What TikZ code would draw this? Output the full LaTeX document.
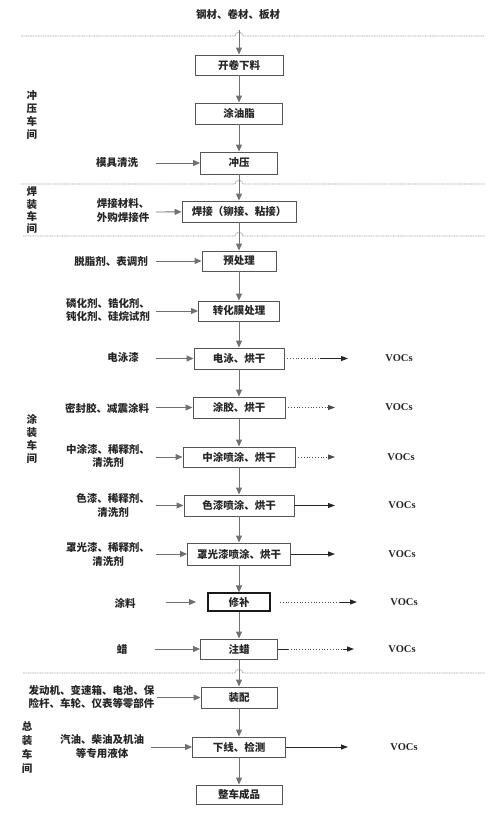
\documentclass[tikz,border=0pt]{standalone}
\usepackage{fontspec}
\setmainfont{Noto Sans CJK SC}
\newfontfamily\vocfont{Liberation Serif}
\usetikzlibrary{arrows.meta}
\definecolor{boxc}{HTML}{555555}
\definecolor{arrc}{HTML}{707070}
\definecolor{txtc}{HTML}{262626}
\tikzset{
 proc/.style={draw=boxc, line width=0.9pt, fill=white, minimum height=21pt, inner sep=0pt, font=\fontsize{10.5}{12}\selectfont\bfseries, text=txtc},
 lbl/.style={font=\fontsize{10.5}{14}\selectfont\bfseries, text=txtc, inner sep=0pt},
 vlbl/.style={align=center, inner sep=0pt, text=txtc, font=\fontsize{10.5}{13}\selectfont\bfseries},
 flow/.style={draw=arrc, line width=0.9pt, -{Triangle[length=7pt,width=6pt]}},
 sep/.style={draw=gray!75, line width=0.8pt, dash pattern=on 1pt off 0.7pt},
 voc/.style={font=\vocfont\fontsize{10.5}{12}\selectfont\bfseries, text=txtc, inner sep=0pt},
 emis/.style={draw=black!85, line width=0.9pt, -{Triangle[length=7pt,width=5pt]}},
 emisdot/.style={draw=black!70, line width=0.8pt, dotted},
 emisdotarr/.style={draw=black!70, line width=0.8pt, dotted, -{Triangle[length=7pt,width=5pt]}}
}
\begin{document}
\begin{tikzpicture}[x=1pt,y=-1pt]
\useasboundingbox (0,0) rectangle (500,815);

% separators with hops
\draw[sep] (21,36) -- (235,36) .. controls (235,31) and (243,31) .. (243,36) -- (485,36);
\draw[sep] (21,184) -- (235,184) .. controls (235,179) and (243,179) .. (243,184) -- (485,184);
\draw[sep] (23,236) -- (235,236) .. controls (235,231) and (243,231) .. (243,236) -- (485,236);
\draw[sep] (23,673) -- (235,673) .. controls (235,668) and (243,668) .. (243,673) -- (485,673);

% workshop labels
\node[vlbl] (w1) at (32,114.5) {冲\\压\\车\\间};
\node[vlbl, font=\fontsize{10.5}{12.3}\selectfont\bfseries] (w2) at (32,210.5) {焊\\装\\车\\间};
\node[vlbl] (w3) at (32,439) {涂\\装\\车\\间};
\node[vlbl, font=\fontsize{10.5}{13.7}\selectfont\bfseries] (w4) at (27,747.5) {总\\装\\车\\间};

% main process
\node[lbl] (top) at (238,15) {钢材、卷材、板材};
\coordinate (topin) at (239,30);
\node[proc, minimum width=88pt, minimum height=20pt] (b1) at (239,65) {开卷下料};
\node[proc, minimum width=87pt] (b2) at (239,113.5) {涂油脂};
\node[proc, minimum width=77pt, minimum height=22pt] (b3) at (239,163) {冲压};
\node[proc, minimum width=114pt] (b4) at (239,211.5) {焊接（铆接、粘接）};
\node[proc, minimum width=74pt, minimum height=20pt] (b5) at (239,261) {预处理};
\node[proc, minimum width=81pt, minimum height=20pt] (b6) at (239,311) {转化膜处理};
\node[proc, minimum width=90pt] (b7) at (239,358.5) {电泳、烘干};
\node[proc, minimum width=92pt] (b8) at (239,407.5) {涂胶、烘干};
\node[proc, minimum width=112pt, minimum height=20pt] (b9) at (239,457) {中涂喷涂、烘干};
\node[proc, minimum width=110pt] (b10) at (239,505.5) {色漆喷涂、烘干};
\node[proc, minimum width=103pt, minimum height=22pt] (b11) at (239,554) {罩光漆喷涂、烘干};
\node[proc, draw=black!90, line width=1.1pt, minimum width=62pt, minimum height=18pt] (b12) at (239,602) {修补};
\node[proc, minimum width=77pt, minimum height=20pt] (b13) at (239,649) {注蜡};
\node[proc, minimum width=76pt] (b14) at (239,697.5) {装配};
\node[proc, minimum width=93pt, minimum height=20pt] (b15) at (239,747) {下线、检测};
\node[proc, minimum width=86pt, minimum height=19pt] (b16) at (239,794.5) {整车成品};

\draw[flow] (topin) -- (b1);
\foreach \a/\b in {b1/b2,b2/b3,b3/b4,b4/b5,b5/b6,b6/b7,b7/b8,b8/b9,b9/b10,b10/b11,b11/b12,b12/b13,b13/b14,b14/b15,b15/b16}
  \draw[flow] (\a) -- (\b);

% inputs
\node[lbl] (i3) at (117,163) {模具清洗};
\node[lbl, align=left] (i4) at (123,211) {焊接材料、\\外购焊接件};
\node[lbl] (i5) at (111,261) {脱脂剂、表调剂};
\node[lbl, align=left, font=\fontsize{10.5}{13}\selectfont\bfseries] (i6) at (108,310) {磷化剂、锆化剂、\\钝化剂、硅烷试剂};
\node[lbl] (i7) at (123,358) {电泳漆};
\node[lbl] (i8) at (107,408) {密封胶、减震涂料};
\node[lbl, align=center, font=\fontsize{10.5}{13}\selectfont\bfseries] (i9) at (108,455.5) {中涂漆、稀释剂、\\清洗剂};
\node[lbl, align=center] (i10) at (113,505.5) {色漆、稀释剂、\\清洗剂};
\node[lbl, align=center] (i11) at (108,554) {罩光漆、稀释剂、\\清洗剂};
\node[lbl] (i12) at (125,603) {涂料};
\node[lbl] (i13) at (122,649) {蜡};
\node[lbl, align=left, font=\fontsize{10.5}{13}\selectfont\bfseries] (i14) at (91.5,697.5) {发动机、变速箱、电池、保\\险杆、车轮、仪表等零部件};
\node[lbl, align=center] (i15) at (102,747) {汽油、柴油及机油\\等专用液体};

\coordinate (s3) at (156,163);
\coordinate (s4) at (156,212);
\coordinate (s5) at (156,261);
\coordinate (s6) at (156,311);
\coordinate (s7) at (156,358.5);
\coordinate (s8) at (156,407.5);
\coordinate (s9) at (156,457);
\coordinate (s10) at (156,505.5);
\coordinate (s11) at (156,554);
\coordinate (s12) at (166,602);
\coordinate (t12) at (196,602);
\coordinate (s13) at (155,649);
\coordinate (s14) at (157,697.5);
\coordinate (s15) at (151,747);

\draw[flow] (s3) -- (b3);
\draw[flow] (s4) -- (b4);
\draw[flow] (s5) -- (b5);
\draw[flow] (s6) -- (b6);
\draw[flow] (s7) -- (b7);
\draw[flow] (s8) -- (b8);
\draw[flow] (s9) -- (b9);
\draw[flow] (s10) -- (b10);
\draw[flow] (s11) -- (b11);
\draw[flow] (s12) -- (t12);
\draw[flow] (s13) -- (b13);
\draw[flow] (s14) -- (b14);
\draw[flow] (s15) -- (b15);

% emissions
\node[voc] (v7) at (399,358.5) {VOCs};
\node[voc] (v8) at (399,407.5) {VOCs};
\node[voc] (v9) at (401,457) {VOCs};
\node[voc] (v10) at (402,505.5) {VOCs};
\node[voc] (v11) at (402,554) {VOCs};
\node[voc] (v12) at (404,602) {VOCs};
\node[voc] (v13) at (402,649) {VOCs};
\node[voc] (v15) at (404,747) {VOCs};

\coordinate (e7a) at (320,358.5);
\coordinate (e7b) at (348,358.5);
\draw[emisdot] (b7.east) -- (e7a);
\draw[emis] (e7a) -- (e7b);

\coordinate (e8) at (335,407.5);
\draw[emisdotarr] (b8.east) -- (e8);
\coordinate (e9) at (335,457);
\draw[emisdotarr] (b9.east) -- (e9);
\coordinate (e10) at (335,505.5);
\draw[emis] (b10.east) -- (e10);
\coordinate (e11) at (335,554);
\draw[emis] (b11.east) -- (e11);

\coordinate (e12s) at (280,602);
\coordinate (e12a) at (340,602);
\coordinate (e12b) at (357,602);
\draw[emisdot] (e12s) -- (e12a);
\draw[emis] (e12a) -- (e12b);

\coordinate (e13a) at (288,649);
\coordinate (e13b) at (343,649);
\coordinate (e13c) at (354,649);
\draw[draw=black!85, line width=0.9pt] (b13.east) -- (e13a);
\draw[emisdot] (e13a) -- (e13b);
\draw[emis] (e13b) -- (e13c);

\coordinate (e15) at (348,747);
\draw[emis] (b15.east) -- (e15);
\end{tikzpicture}
\end{document}
